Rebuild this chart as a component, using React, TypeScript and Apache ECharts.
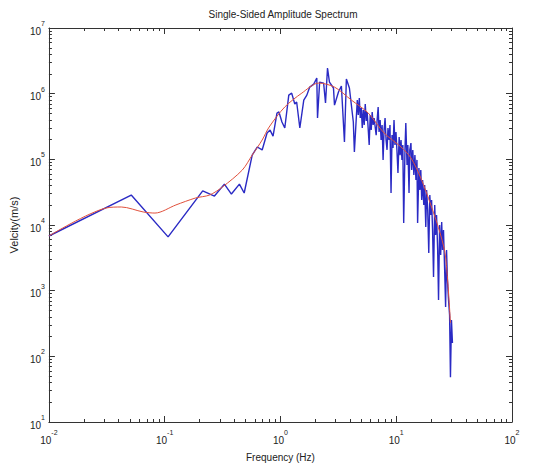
import React, { useEffect, useRef } from "react";
import * as echarts from "echarts";

const titleText = "Single-Sided Amplitude Spectrum";
const xName = "Frequency (Hz)";
const yName = "Velcity(m/s)";

const xDecades = [0.01, 0.1, 1, 10, 100];
const yDecades = [10, 100, 1000, 1e4, 1e5, 1e6, 1e7];
const minorMultipliers = [2, 3, 4, 5, 6, 7, 8, 9];

// Blue: raw single-sided amplitude spectrum
const blueFreq = [
  0.01, 0.0514, 0.107, 0.213, 0.269, 0.328, 0.377, 0.442, 0.486, 0.57,
  0.63, 0.695, 0.766, 0.813, 0.863, 0.933, 0.97, 1.03, 1.09, 1.18,
  1.25, 1.33, 1.38, 1.47, 1.59, 1.69, 1.79, 1.94, 2.06, 2.09,
  2.18, 2.36, 2.45, 2.55, 2.65, 2.87, 2.93, 3.17, 3.36, 3.57,
  3.71, 3.94, 4.26, 4.35,
  4.61, 4.7, 4.8, 4.89, 4.99, 5.09, 5.19, 5.29, 5.4, 5.51,
  5.61, 5.84, 5.96, 6.08, 6.2, 6.32, 6.44, 6.71, 6.84, 6.98,
  7.11, 7.26, 7.4, 7.55, 7.7, 7.85, 8.01, 8.17, 8.33, 8.49,
  8.67, 8.83, 9.02, 9.2, 9.38, 9.57, 9.75, 9.95, 10.14, 10.35,
  10.6, 10.8, 11.0, 11.2, 11.4, 11.6, 11.9, 12.1, 12.4, 12.6,
  12.9, 13.1, 13.4, 13.6, 13.9, 14.2, 14.5, 14.8, 15.1, 15.3,
  15.7, 16.0, 16.3, 16.6, 16.9, 17.3, 17.6, 18.0, 18.3, 18.7,
  19.1, 19.5, 19.9, 20.2, 20.6, 21.0, 21.5, 21.9, 22.3, 22.8,
  23.2, 23.7, 24.2, 24.7, 25.1, 25.6, 26.2, 26.7, 27.2, 27.7,
  28.3, 28.9, 29.4, 30.0, 30.6,
];
const blueAmp = [
  6800, 28600, 6600, 33000, 27600, 42000, 29600, 42000, 30700, 116000,
  154000, 139000, 252000, 279000, 226000, 507000, 526000, 370000, 300000, 950000,
  1020000, 695000, 746000, 300000, 800000, 950000, 1260000, 1400000, 1730000, 426000,
  1500000, 1450000, 720000, 2460000, 1500000, 1220000, 670000, 1060000, 1310000, 184000,
  1670000, 1220000, 370000, 129000,
  800000, 473000, 860000, 426000, 604000, 300000, 564000, 333000, 695000, 384000,
  526000, 165000, 473000, 279000, 526000, 333000, 426000, 234000, 397000, 627000,
  261000, 397000, 197000, 333000, 98000, 279000, 426000, 197000, 139000, 300000,
  197000, 333000, 30700, 234000, 149000, 397000, 165000, 261000, 139000, 61900,
  219000, 116000, 197000, 98000, 165000, 10700, 139000, 357000, 81900, 165000,
  30700, 139000, 177000, 68700, 139000, 57700, 116000, 48400, 98000, 10700,
  73800, 34100, 68700, 24000, 48400, 20200, 40600, 9300, 34100, 16900,
  3740, 28600, 14200, 24000, 8390, 1610, 20200, 7040, 14200, 4160,
  721, 10000, 3490, 11100, 4160, 8390, 2070, 564, 4160, 1450,
  721, 426, 48, 357, 160,
];

// Red: smoothed spectrum
const redFreq = [
  0.01, 0.0314, 0.0422, 0.0652, 0.0824, 0.125, 0.185, 0.244, 0.315, 0.468,
  0.57, 0.695, 0.798, 1.09, 1.53, 2.14, 2.93, 4.09, 5.73, 7.85,
  11.0, 13.4, 16.3, 19.9, 24.2, 26.7, 29.4,
];
const redAmp = [
  6800, 18200, 18800, 15800, 15200, 20200, 25800, 28600, 37900, 68700,
  116000, 197000, 310000, 627000, 1020000, 1450000, 1260000, 800000, 507000, 252000,
  154000, 105000, 52000, 20200, 7040, 3260, 322,
];

const FONT = "'Liberation Sans', Arial, Helvetica, sans-serif";
const AXIS_COLOR = "#333";

function minorValues(decades: number[]): number[] {
  const out: number[] = [];
  for (let i = 0; i < decades.length - 1; i++) {
    for (const m of minorMultipliers) out.push(decades[i] * m);
  }
  return out;
}

function powLabel(v: number): string {
  const e = Math.round(Math.log10(v));
  return "{b|10}{s|" + e + "}";
}

const richLabel = {
  b: { fontSize: 10, color: "#222", fontFamily: FONT, lineHeight: 16, verticalAlign: "bottom" },
  s: { fontSize: 7, color: "#222", fontFamily: FONT, lineHeight: 16, verticalAlign: "top" },
};

function makeAxis(
  kind: "x" | "y",
  position: string,
  ticks: number[],
  tickLen: number,
  showLine: boolean,
  withLabels: boolean,
  extra: any = {}
) {
  const isX = kind === "x";
  return {
    type: "log",
    logBase: 10,
    min: isX ? xDecades[0] : yDecades[0],
    max: isX ? xDecades[xDecades.length - 1] : yDecades[yDecades.length - 1],
    position,
    axisLine: { show: showLine, onZero: false, lineStyle: { color: AXIS_COLOR, width: 1 } },
    axisTick: {
      show: true,
      inside: true,
      length: tickLen,
      customValues: ticks,
      lineStyle: { color: AXIS_COLOR, width: 1 },
    },
    minorTick: { show: false },
    axisLabel: withLabels
      ? {
          show: true,
          customValues: ticks,
          formatter: powLabel,
          rich: richLabel,
          margin: isX ? 7 : 4,
          showMinLabel: true,
          showMaxLabel: true,
          hideOverlap: false,
        }
      : { show: false },
    splitLine: { show: false },
    ...extra,
  };
}

export default function App() {
  const ref = useRef<HTMLDivElement>(null);

  useEffect(() => {
    document.body.style.margin = "0";
    if (!ref.current) return;
    const chart = echarts.init(ref.current, undefined, { renderer: "svg" });
    const xMinor = minorValues(xDecades);
    const yMinor = minorValues(yDecades);

    const option: any = {
      animation: false,
      backgroundColor: "#ffffff",
      title: {
        text: titleText,
        left: 278,
        top: 4,
        textAlign: "center",
        textStyle: { fontSize: 10, fontWeight: "normal", color: "#222", fontFamily: FONT },
      },
      grid: { left: 45, right: 21, top: 28, bottom: 45 },
      xAxis: [
        makeAxis("x", "bottom", xDecades, 6, true, true, {
          name: xName,
          nameLocation: "middle",
          nameGap: 30,
          nameTextStyle: { fontSize: 10, color: "#222", fontFamily: FONT },
        }),
        makeAxis("x", "bottom", xMinor, 3, false, false),
        makeAxis("x", "top", xDecades, 6, true, false),
        makeAxis("x", "top", xMinor, 3, false, false),
      ],
      yAxis: [
        makeAxis("y", "left", yDecades, 6, true, true, {
          name: yName,
          nameLocation: "middle",
          nameGap: 27,
          nameRotate: 90,
          nameTextStyle: { fontSize: 11, color: "#222", fontFamily: FONT },
        }),
        makeAxis("y", "left", yMinor, 3, false, false),
        makeAxis("y", "right", yDecades, 6, true, false),
        makeAxis("y", "right", yMinor, 3, false, false),
      ],
      series: [
        {
          name: "spectrum",
          type: "line",
          xAxisIndex: 0,
          yAxisIndex: 0,
          data: blueFreq.map((f, i) => [f, blueAmp[i]]),
          symbol: "none",
          showSymbol: false,
          lineStyle: { color: "#2a2ac4", width: 1.4 },
          z: 2,
        },
        {
          name: "smoothed",
          type: "line",
          xAxisIndex: 0,
          yAxisIndex: 0,
          data: redFreq.map((f, i) => [f, redAmp[i]]),
          symbol: "none",
          showSymbol: false,
          smooth: 0.3,
          lineStyle: { color: "#e0503c", width: 1 },
          z: 3,
        },
      ],
    };
    chart.setOption(option);
    return () => chart.dispose();
  }, []);

  return <div ref={ref} style={{ width: 533, height: 467 }} />;
}
